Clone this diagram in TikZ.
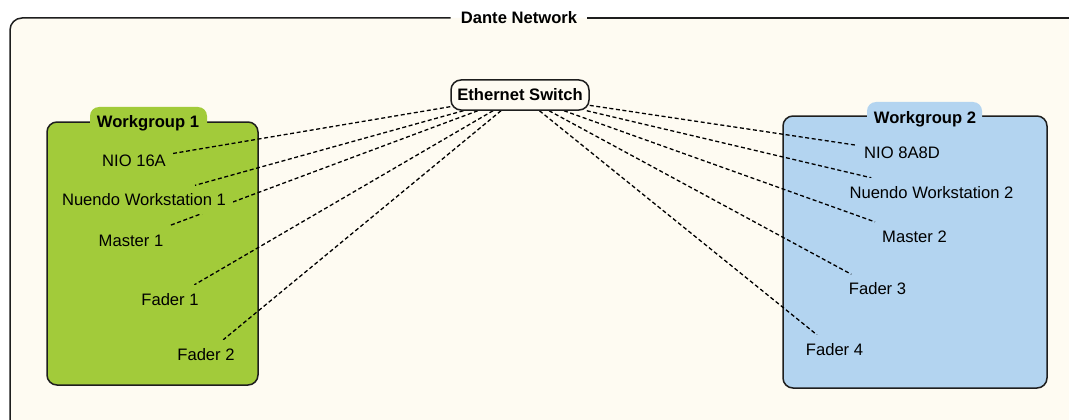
\documentclass[tikz,border=0pt]{standalone}
\usepackage{fontspec}
\setmainfont{Liberation Sans}
\definecolor{cream}{RGB}{254,251,242}
\definecolor{wgA}{RGB}{162,203,58}
\definecolor{wgB}{RGB}{179,212,240}
\definecolor{edgec}{RGB}{30,30,30}
\pgfdeclarelayer{bg}
\pgfdeclarelayer{wires}
\pgfsetlayers{bg,wires,main}
\tikzset{
  lbl/.style={inner xsep=7pt, inner ysep=7pt, text height=13pt, text depth=1pt, font=\fontsize{16.6}{19}\selectfont},
  lblA/.style={lbl, fill=wgA},
  lblB/.style={lbl, fill=wgB},
  wire/.style={draw=black, line width=1.3pt, dash pattern=on 4pt off 2.6pt},
  boldtxt/.style={font=\fontsize{16.6}{19}\selectfont\bfseries, text height=13pt, text depth=1pt},
  grp/.style={draw=edgec, line width=1.5pt, rounded corners=10pt},
  frameline/.style={draw=edgec, line width=1.5pt},
}
\begin{document}
\begin{tikzpicture}[x=1pt,y=-1pt]
\useasboundingbox (0,0) rectangle (1069,420);
% nodes (main layer)
\node[boldtxt, inner xsep=10pt] (title) at (519,18) {Dante Network};
\node[boldtxt, draw=edgec, line width=1.5pt, fill=cream, rounded corners=10pt,
      minimum width=138pt, minimum height=30pt] (sw) at (520,95) {Ethernet Switch};
\node[boldtxt] (wg1) at (148,121) {Workgroup 1};
\node[boldtxt] (wg2) at (925,117) {Workgroup 2};
\node[lblA] (a1) at (134,160) {NIO 16A};
\node[lblA] (a2) at (144,199.5) {Nuendo Workstation 1};
\node[lblA] (a3) at (131,240) {Master 1};
\node[lblA] (a4) at (170,299) {Fader 1};
\node[lblA] (a5) at (206,354) {Fader 2};
\node[lblB] (b1) at (902,152) {NIO 8A8D};
\node[lblB] (b2) at (931.5,192) {Nuendo Workstation 2};
\node[lblB] (b3) at (914.5,236) {Master 2};
\node[lblB] (b4) at (877.5,288.5) {Fader 3};
\node[lblB] (b5) at (834.5,349) {Fader 4};
% background
\begin{pgfonlayer}{bg}
  \fill[white] (0,0) rectangle (1069,420);
  \fill[cream, rounded corners=12pt] (10,18) -- (1090,18) -- (1090,440) -- (10,440) -- cycle;
  \draw[frameline, rounded corners=12pt] (title.west) -- (10,18) -- (10,440);
  \draw[frameline] (title.east) -- (1090,18);
  \draw[grp, fill=wgA] (47,122) rectangle (258,385);
  \fill[wgA, rounded corners=9pt] (90,107) rectangle (207,140);
  \draw[grp, fill=wgB] (783,116) rectangle (1047,388);
  \fill[wgB, rounded corners=9pt] (867,102) rectangle (982,135);
\end{pgfonlayer}
% connectors
\begin{pgfonlayer}{wires}
  \foreach \n in {a1,a2,a3,a4,a5,b1,b2,b3,b4,b5}
    \draw[wire] (sw) -- (\n);
\end{pgfonlayer}
\end{tikzpicture}
\end{document}
